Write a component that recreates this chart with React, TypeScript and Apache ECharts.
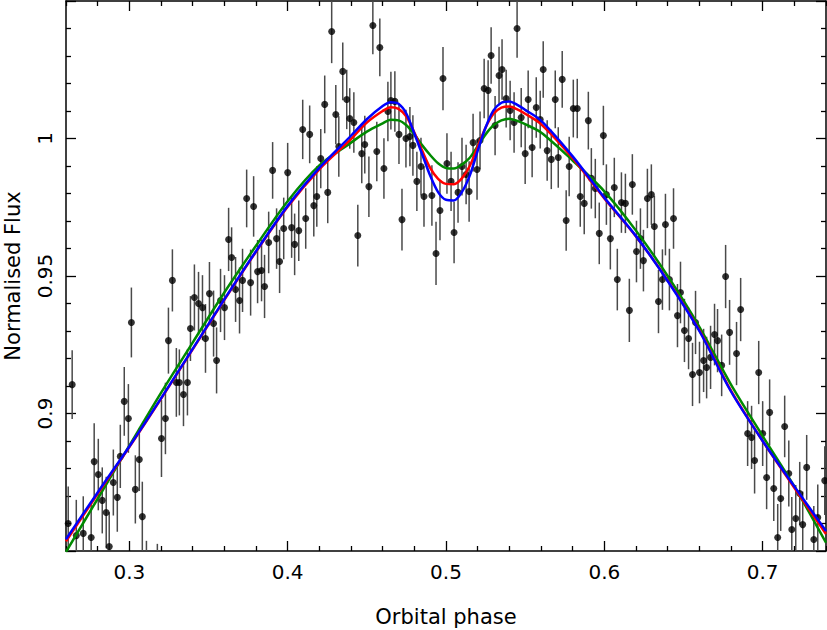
import React, { useEffect, useRef } from "react";
import * as echarts from "echarts";

// ---- Observed data (orbital phase, normalised flux, 1-sigma error) ----
const phases = [
  0.2614, 0.2639, 0.2665, 0.2709, 0.2759, 0.2778, 0.2804, 0.2829, 0.2854, 0.2873,
  0.2899, 0.2924, 0.2943, 0.2968, 0.2994, 0.3013, 0.3038, 0.3063, 0.3082, 0.3108,
  0.3177, 0.3203, 0.3228, 0.3247, 0.3272, 0.3297, 0.3316, 0.3342, 0.3367, 0.3386,
  0.3411, 0.3437, 0.3462, 0.3481, 0.3506, 0.3532, 0.3551, 0.3576, 0.3601, 0.3627,
  0.3646, 0.3671, 0.3696, 0.3715, 0.3741, 0.3766, 0.3785, 0.381, 0.3835, 0.3854,
  0.388, 0.3905, 0.393, 0.3949, 0.3975, 0.4, 0.4025, 0.4044, 0.407, 0.4095,
  0.4114, 0.4139, 0.4165, 0.4184, 0.4209, 0.4234, 0.4253, 0.4278, 0.4304, 0.4323,
  0.4348, 0.4373, 0.4392, 0.4418, 0.4443, 0.4468, 0.4487, 0.4513, 0.4538, 0.4563,
  0.4582, 0.4608, 0.4633, 0.4652, 0.4677, 0.4703, 0.4722, 0.4747, 0.4772, 0.4791,
  0.4816, 0.4842, 0.4861, 0.4911, 0.4937, 0.4962, 0.4981, 0.5006, 0.5032, 0.5051,
  0.5076, 0.5101, 0.5127, 0.5146, 0.5171, 0.5196, 0.5215, 0.5241, 0.5266, 0.5285,
  0.531, 0.5335, 0.5354, 0.538, 0.5405, 0.543, 0.5449, 0.5475, 0.55, 0.5519,
  0.5544, 0.557, 0.5595, 0.5614, 0.5639, 0.5665, 0.569, 0.5709, 0.5734, 0.5759,
  0.5778, 0.5804, 0.5829, 0.5848, 0.5873, 0.5899, 0.5918, 0.5943, 0.5968, 0.5994,
  0.6013, 0.6038, 0.6063, 0.6082, 0.6108, 0.6133, 0.6158, 0.6177, 0.6203, 0.6228,
  0.6247, 0.6272, 0.6297, 0.6316, 0.6342, 0.6367, 0.6386, 0.6411, 0.6437, 0.6462,
  0.6481, 0.6506, 0.6532, 0.6557, 0.6576, 0.6601, 0.6627, 0.6646, 0.6671, 0.6696,
  0.6715, 0.6741, 0.6766, 0.6791, 0.6835, 0.6861, 0.6905, 0.693, 0.6949, 0.6975,
  0.7, 0.7025, 0.7044, 0.707, 0.7095, 0.7114, 0.7139, 0.7165, 0.7184, 0.7209,
  0.7234, 0.7253, 0.7278, 0.7323, 0.7348, 0.7392,
];

const fluxes = [
  0.86, 0.9105, 0.8556, 0.8564, 0.8549, 0.8825, 0.8778, 0.8684, 0.864, 0.8516,
  0.8749, 0.8695, 0.8844, 0.9044, 0.8982, 0.9331, 0.8724, 0.8833, 0.8625, 0.8407,
  0.8396, 0.8909, 0.8982, 0.9265, 0.9484, 0.9113, 0.9113, 0.9069, 0.9113, 0.9309,
  0.9422, 0.94, 0.9385, 0.9273, 0.9436, 0.9327, 0.9193, 0.9411, 0.9385, 0.9633,
  0.9567, 0.9451, 0.9411, 0.9484, 0.9782, 0.9476, 0.9753, 0.9516, 0.952, 0.9462,
  0.9622, 0.9884, 0.9636, 0.9553, 0.9673, 0.9876, 0.9676, 0.9615, 0.9665, 1.0033,
  0.9709, 1.0015, 0.9756, 0.9789, 0.9927, 1.0124, 0.9804, 1.0389, 1.0087, 0.9971,
  1.0244, 1.0142, 1.0073, 1.0058, 0.9647, 0.9945, 0.9978, 0.9825, 1.0411, 0.9953,
  1.0331, 0.9891, 1.0098, 1.0138, 1.0135, 1.0015, 0.9705, 1.0, 1.0007, 0.9975,
  0.9844, 0.9898, 0.9789, 0.9793, 0.9582, 0.9738, 1.0218, 0.9909, 0.9844, 0.9658,
  0.9804, 0.9898, 0.9869, 0.9807, 0.9985, 0.9887, 0.9993, 1.0182, 1.0175, 1.0302,
  1.0047, 1.0229, 1.0251, 1.0145, 1.0102, 1.0058, 1.04, 1.0076, 0.9945, 1.0142,
  0.9967, 1.0113, 1.0069, 1.0251, 0.9956, 0.9924, 1.0142, 0.9931, 1.0215, 0.9702,
  0.9898, 1.0109, 1.0109, 0.9789, 0.9764, 1.0065, 0.9855, 0.9818, 0.9655, 1.0011,
  0.9796, 0.9636, 0.9822, 0.9487, 0.9767, 0.9764, 0.9375, 0.9833, 0.9589, 0.9636,
  0.9556, 0.9782, 0.9796, 0.968, 0.9407, 0.9487, 0.9687, 0.9487, 0.9709, 0.9356,
  0.944, 0.9302, 0.9273, 0.9142, 0.9331, 0.9149, 0.9193, 0.9167, 0.9204, 0.9287,
  0.9265, 0.9175, 0.9498, 0.9295, 0.9218, 0.9378, 0.8927, 0.8913, 0.8829, 0.9149,
  0.8927, 0.8767, 0.9004, 0.8727, 0.8549, 0.8691, 0.8953, 0.8782, 0.8578, 0.8618,
  0.8709, 0.8596, 0.8804, 0.8542, 0.8622, 0.8756,
];

const errors = [
  0.0135, 0.0125, 0.013, 0.0135, 0.013, 0.014, 0.013, 0.012, 0.013, 0.0125,
  0.012, 0.0125, 0.0115, 0.0125, 0.0125, 0.0127, 0.0124, 0.0115, 0.0127, 0.013,
  0.013, 0.014, 0.013, 0.012, 0.0113, 0.0125, 0.012, 0.0115, 0.012, 0.0118,
  0.012, 0.0115, 0.0118, 0.0125, 0.0115, 0.012, 0.012, 0.0115, 0.0118, 0.0115,
  0.011, 0.0118, 0.012, 0.0115, 0.0105, 0.012, 0.011, 0.0115, 0.0112, 0.0115,
  0.0112, 0.0103, 0.011, 0.0115, 0.0112, 0.0108, 0.011, 0.0112, 0.011, 0.0108,
  0.011, 0.0105, 0.0112, 0.011, 0.0108, 0.0105, 0.0112, 0.0115, 0.0108, 0.011,
  0.0105, 0.0108, 0.011, 0.011, 0.0112, 0.0108, 0.0105, 0.011, 0.0105, 0.0108,
  0.0105, 0.011, 0.0108, 0.0105, 0.011, 0.0108, 0.0112, 0.0105, 0.0108, 0.011,
  0.0108, 0.0105, 0.011, 0.011, 0.0115, 0.0108, 0.0115, 0.011, 0.0108, 0.0112,
  0.011, 0.0105, 0.0108, 0.011, 0.0105, 0.011, 0.0105, 0.0108, 0.011, 0.0103,
  0.0108, 0.0105, 0.011, 0.0105, 0.0108, 0.011, 0.0106, 0.0108, 0.011, 0.0105,
  0.0108, 0.011, 0.0105, 0.0103, 0.011, 0.0108, 0.0105, 0.011, 0.0103, 0.011,
  0.0108, 0.0105, 0.0108, 0.011, 0.0112, 0.0105, 0.011, 0.0108, 0.0112, 0.0108,
  0.011, 0.0112, 0.0108, 0.0112, 0.011, 0.0108, 0.0115, 0.011, 0.0112, 0.011,
  0.0112, 0.0108, 0.011, 0.0112, 0.0115, 0.011, 0.0112, 0.0112, 0.011, 0.0115,
  0.0112, 0.0115, 0.0112, 0.0115, 0.0115, 0.0112, 0.0115, 0.0112, 0.0115, 0.0112,
  0.0115, 0.0112, 0.0115, 0.0118, 0.0115, 0.0115, 0.0118, 0.0115, 0.012, 0.0115,
  0.0118, 0.0115, 0.012, 0.0118, 0.0122, 0.0118, 0.0112, 0.012, 0.0118, 0.0122,
  0.0115, 0.012, 0.0118, 0.0122, 0.012, 0.0125,
];

// ---- Model light curves ----
const modelPhases = [
  0.26, 0.28, 0.3, 0.32, 0.34, 0.36, 0.38, 0.4, 0.42, 0.44, 0.45, 0.46, 0.465,
  0.47, 0.475, 0.48, 0.485, 0.49, 0.495, 0.5, 0.505, 0.51, 0.515, 0.52, 0.525,
  0.53, 0.535, 0.54, 0.545, 0.55, 0.56, 0.58, 0.6, 0.62, 0.64, 0.66, 0.68, 0.7,
  0.72, 0.74,
];
const modelGreen = [
  0.8497, 0.869, 0.8883, 0.9075, 0.9258, 0.944, 0.961, 0.9772, 0.9902, 0.9985,
  1.0025, 1.0055, 1.0068, 1.0066, 1.0048, 1.0015, 0.9975, 0.994, 0.991, 0.9893,
  0.9891, 0.9905, 0.993, 0.9972, 1.0015, 1.0048, 1.0066, 1.0072, 1.0064, 1.0052,
  1.0022, 0.992, 0.9808, 0.9665, 0.95, 0.9315, 0.9105, 0.8918, 0.8735, 0.853,
];
const modelRed = [
  0.8535, 0.8708, 0.8878, 0.9053, 0.9233, 0.9413, 0.9588, 0.9752, 0.9888, 0.9998,
  1.0058, 1.01, 1.0114, 1.0108, 1.008, 1.0022, 0.9955, 0.9893, 0.9853, 0.9835,
  0.9834, 0.9855, 0.99, 0.997, 1.004, 1.009, 1.0112, 1.0116, 1.0106, 1.009,
  1.0052, 0.9928, 0.9782, 0.9644, 0.9484, 0.9303, 0.9083, 0.89, 0.873, 0.8562,
];
const modelBlue = [
  0.8543, 0.8713, 0.888, 0.9055, 0.9235, 0.9415, 0.959, 0.9755, 0.9893, 1.001,
  1.007, 1.0118, 1.0132, 1.0126, 1.009, 1.0018, 0.9942, 0.9865, 0.9805, 0.9777,
  0.9775, 0.9805, 0.9865, 0.9955, 1.004, 1.0102, 1.013, 1.0135, 1.0122, 1.0104,
  1.0065, 0.9935, 0.9785, 0.9645, 0.9482, 0.93, 0.908, 0.89, 0.8735, 0.8573,
];

// ---- Axis ticks ----
const xMajorTicks = [0.3, 0.4, 0.5, 0.6, 0.7];
const xMinorTicks = [
  0.26, 0.28, 0.32, 0.34, 0.36, 0.38, 0.42, 0.44, 0.46, 0.48, 0.52, 0.54, 0.56,
  0.58, 0.62, 0.64, 0.66, 0.68, 0.72, 0.74,
];
const yMajorTicks = [0.85, 0.9, 0.95, 1.0, 1.05];
const yLabelTicks = [0.9, 0.95, 1.0];
const yMinorTicks = [
  0.86, 0.87, 0.88, 0.89, 0.91, 0.92, 0.93, 0.94, 0.96, 0.97, 0.98, 0.99, 1.01,
  1.02, 1.03, 1.04,
];

const X_MIN = 0.26;
const X_MAX = 0.74;
const Y_MIN = 0.85;
const Y_MAX = 1.05;

const FONT = "'DejaVu Sans', sans-serif";

const fmt = (v: number) => String(parseFloat(Number(v).toFixed(2)));

function makeXAxis(position: "top" | "bottom", major: boolean, withLabels: boolean) {
  return {
    type: "value",
    min: X_MIN,
    max: X_MAX,
    position,
    axisLine: { show: major, onZero: false, lineStyle: { color: "#000", width: 1.5 } },
    axisTick: {
      show: true,
      inside: true,
      length: major ? 10 : 5,
      customValues: major ? xMajorTicks : xMinorTicks,
      lineStyle: { color: "#000", width: 1.3 },
    },
    axisLabel: withLabels
      ? {
          show: true,
          customValues: xMajorTicks,
          formatter: (v: number) => fmt(v),
          color: "#000",
          fontSize: 20,
          fontFamily: FONT,
          margin: 11,
        }
      : { show: false },
    splitLine: { show: false },
    ...(withLabels
      ? {
          name: "Orbital phase",
          nameLocation: "middle",
          nameGap: 55,
          nameTextStyle: { color: "#000", fontSize: 21, fontFamily: FONT },
        }
      : {}),
  };
}

function makeYAxis(position: "left" | "right", major: boolean, withLabels: boolean) {
  return {
    type: "value",
    min: Y_MIN,
    max: Y_MAX,
    position,
    axisLine: { show: major, onZero: false, lineStyle: { color: "#000", width: 1.5 } },
    axisTick: {
      show: true,
      inside: true,
      length: major ? 10 : 5,
      customValues: major ? yMajorTicks : yMinorTicks,
      lineStyle: { color: "#000", width: 1.3 },
    },
    axisLabel: withLabels
      ? {
          show: true,
          customValues: yLabelTicks,
          formatter: (v: number) => fmt(v),
          rotate: 90,
          color: "#000",
          fontSize: 20,
          fontFamily: FONT,
          margin: 11,
        }
      : { show: false },
    splitLine: { show: false },
    ...(withLabels
      ? {
          name: "Normalised Flux",
          nameLocation: "middle",
          nameRotate: 90,
          nameGap: 43,
          nameTextStyle: { color: "#000", fontSize: 21, fontFamily: FONT },
        }
      : {}),
  };
}

export default function App() {
  const ref = useRef<HTMLDivElement>(null);

  useEffect(() => {
    if (!ref.current) return;
    const chart = echarts.init(ref.current, null, { renderer: "svg" });

    const errData = phases.map((p, i) => [p, fluxes[i] - errors[i], fluxes[i] + errors[i]]);
    const pointData = phases.map((p, i) => [p, fluxes[i]]);
    const curve = (vals: number[]) => modelPhases.map((p, i) => [p, vals[i]]);

    const lineSeries = (name: string, vals: number[], color: string, z: number) => ({
      name,
      type: "line",
      xAxisIndex: 0,
      yAxisIndex: 0,
      data: curve(vals),
      showSymbol: false,
      smooth: 0.3,
      clip: true,
      lineStyle: { color, width: 2.5 },
      itemStyle: { color },
      z,
      silent: true,
    });

    chart.setOption({
      animation: false,
      backgroundColor: "#fff",
      grid: {
        left: 66,
        right: 1,
        top: 1,
        bottom: 79,
        containLabel: false,
        outerBoundsMode: "none",
      },
      xAxis: [
        makeXAxis("bottom", true, true),
        makeXAxis("bottom", false, false),
        makeXAxis("top", true, false),
        makeXAxis("top", false, false),
      ],
      yAxis: [
        makeYAxis("left", true, true),
        makeYAxis("left", false, false),
        makeYAxis("right", true, false),
        makeYAxis("right", false, false),
      ],
      series: [
        {
          name: "errors",
          type: "custom",
          xAxisIndex: 0,
          yAxisIndex: 0,
          data: errData,
          encode: { x: 0, y: [1, 2] },
          clip: true,
          silent: true,
          z: 2,
          renderItem: (_params: any, api: any) => {
            const lo = api.coord([api.value(0), api.value(1)]);
            const hi = api.coord([api.value(0), api.value(2)]);
            return {
              type: "line",
              shape: { x1: lo[0], y1: lo[1], x2: hi[0], y2: hi[1] },
              style: { stroke: "#4a4a4a", lineWidth: 1.5 },
            };
          },
        },
        {
          name: "data",
          type: "scatter",
          xAxisIndex: 0,
          yAxisIndex: 0,
          data: pointData,
          symbol: "circle",
          symbolSize: 7,
          clip: true,
          itemStyle: { color: "#000" },
          z: 3,
          silent: true,
        },
        lineSeries("model A", modelGreen, "#008a00", 4),
        lineSeries("model B", modelRed, "#ff0000", 5),
        lineSeries("model C", modelBlue, "#0000ff", 6),
      ],
    });

    return () => chart.dispose();
  }, []);

  return (
    <div
      ref={ref}
      style={{ position: "fixed", left: 0, top: 0, width: 827, height: 630, background: "#fff" }}
    />
  );
}
